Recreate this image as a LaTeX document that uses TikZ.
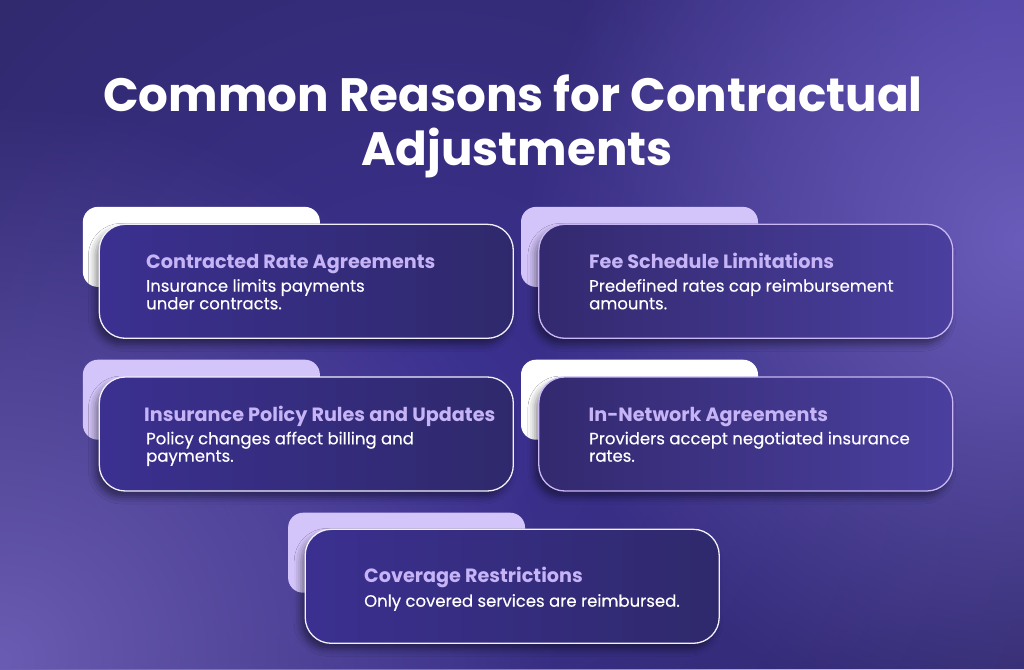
\documentclass[tikz,border=0pt]{standalone}
\usepackage{fontspec}
\setmainfont{Poppins}
\newfontfamily\pmed[FakeBold=0.35]{Poppins}
\usetikzlibrary{shadows.blur,fadings}
\definecolor{bgbase}{HTML}{302969}
\definecolor{glowR}{HTML}{6A5CBA}
\definecolor{glowBL}{HTML}{6A5CB2}
\definecolor{glowMid}{HTML}{3C3192}
\definecolor{glowTR}{HTML}{44389C}
\definecolor{lav}{HTML}{D3C4FA}
\definecolor{ttl}{HTML}{C6B4F6}
\definecolor{edgeW}{HTML}{F2F0FC}
\definecolor{edgeL}{HTML}{C9B8F5}
\definecolor{cardL}{HTML}{3B3090}
\definecolor{cardD}{HTML}{2F296C}
\definecolor{cardR}{HTML}{4A3F9E}
\definecolor{cardLD}{HTML}{33296F}
\tikzfading[name=softglow, inner color=transparent!0, outer color=transparent!100]
\tikzset{
  tabbox/.style={rounded corners=15pt, minimum width=237pt, minimum height=80pt, inner sep=0pt},
  cardbox/.style={rounded corners=26pt, minimum width=414pt, minimum height=114pt, inner sep=0pt,
    line width=1.3pt, blur shadow={shadow xshift=-4pt, shadow yshift=-6pt, shadow blur radius=7pt, shadow opacity=45}},
  ctitle/.style={anchor=base west, inner sep=0pt, text=ttl, font=\bfseries\fontsize{19.2}{23}\selectfont},
  cdesc/.style={anchor=base west, inner sep=0pt, text=white, font=\pmed\fontsize{16.5}{18}\selectfont},
  bigtitle/.style={anchor=base, inner sep=0pt, font=\bfseries\fontsize{46.8}{53}\selectfont},
  glow/.style={path fading=softglow}
}
\begin{document}
\begin{tikzpicture}[x=1pt,y=-1pt]
\useasboundingbox (0,0) rectangle (1024,669);
\begin{scope}
\clip (0,0) rectangle (1024,669);
\fill[bgbase] (0,0) rectangle (1024,669);
\fill[glowMid, glow] (430,420) circle [radius=700pt];
\fill[glowTR, glow] (1000,20) circle [radius=440pt];
\fill[glowR, glow] (1024,240) circle [radius=500pt];
\fill[glowBL, glow] (0,660) circle [radius=560pt];
\end{scope}

% title
\node[bigtitle, text=white] (t1) at (513,111.7) {Common Reasons for Contractual};
\node[bigtitle, text=white] (t2) at (517,165) {Adjustments};

% card 1
\node[tabbox, fill=white] (tabA) at (201.4,246.9) {};
\node[cardbox, left color=cardL, right color=cardD, draw=edgeW] (cardA) at (306.3,281.3) {};
\node[ctitle] (hA) at (146,268.3) {Contracted Rate Agreements};
\node[cdesc] (dA1) at (146,291.7) {Insurance limits payments};
\node[cdesc] (dA2) at (146,309.3) {under contracts.};

% card 2
\node[tabbox, fill=lav] (tabB) at (639.5,246.9) {};
\node[cardbox, left color=cardLD, right color=cardR, draw=edgeL] (cardB) at (745.8,281.3) {};
\node[ctitle] (hB) at (589,268.3) {Fee Schedule Limitations};
\node[cdesc] (dB1) at (589,291.7) {Predefined rates cap reimbursement};
\node[cdesc] (dB2) at (589,309.3) {amounts.};

% card 3
\node[tabbox, fill=lav] (tabC) at (201.4,399.7) {};
\node[cardbox, left color=cardL, right color=cardD, draw=edgeW] (cardC) at (306.3,434) {};
\node[ctitle] (hC) at (144,421) {Insurance Policy Rules and Updates};
\node[cdesc] (dC1) at (146,444.3) {Policy changes affect billing and};
\node[cdesc] (dC2) at (146,461.7) {payments.};

% card 4
\node[tabbox, fill=white] (tabD) at (639.5,399.7) {};
\node[cardbox, left color=cardLD, right color=cardR, draw=edgeL] (cardD) at (745.8,434) {};
\node[ctitle] (hD) at (588.5,421.3) {In-Network Agreements};
\node[cdesc] (dD1) at (589,444.3) {Providers accept negotiated insurance};
\node[cdesc] (dD2) at (589,461.7) {rates.};

% card 5
\node[tabbox, fill=lav] (tabE) at (406.6,552.7) {};
\node[cardbox, left color=cardL, right color=cardD, draw=edgeW] (cardE) at (512.2,586.3) {};
\node[ctitle] (hE) at (364,582.3) {Coverage Restrictions};
\node[cdesc] (dE1) at (364,606.7) {Only covered services are reimbursed.};
\end{tikzpicture}
\end{document}
